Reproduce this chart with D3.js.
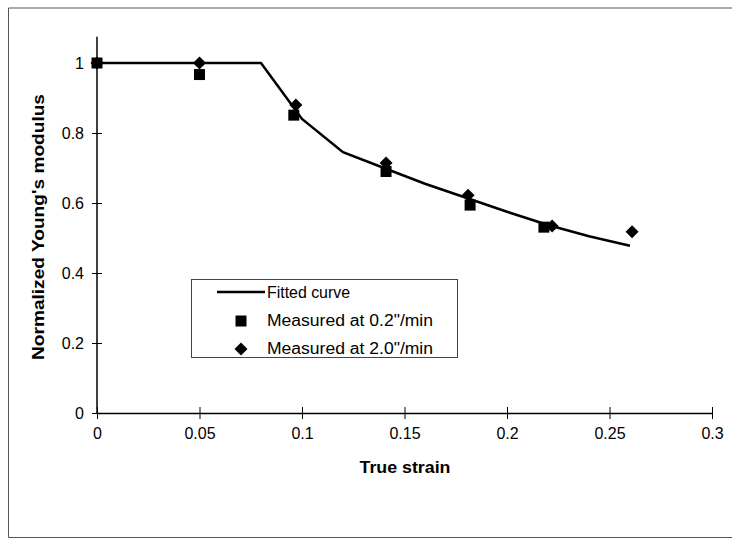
<!DOCTYPE html>
<html>
<head>
<meta charset="utf-8">
<script src="https://cdn.jsdelivr.net/npm/d3@7"></script>
<style>
  body { margin: 0; background: #fff; }
  text { font-family: "Liberation Sans", Arial, sans-serif; fill: #000; }
</style>
</head>
<body>
<script>
// Data
var fittedStrain = [0, 0.08, 0.1, 0.12, 0.14, 0.16, 0.18, 0.2, 0.22, 0.24, 0.26];
var fittedModulus = [1, 1, 0.84, 0.745, 0.70, 0.655, 0.615, 0.575, 0.537, 0.505, 0.478];

var slowStrain = [0, 0.05, 0.096, 0.141, 0.182, 0.218];
var slowModulus = [1, 0.967, 0.851, 0.69, 0.594, 0.531];

var fastStrain = [0, 0.05, 0.097, 0.141, 0.181, 0.222, 0.261];
var fastModulus = [1, 1, 0.88, 0.714, 0.622, 0.534, 0.518];

var xTicks = [0, 0.05, 0.1, 0.15, 0.2, 0.25, 0.3];
var yTicks = [0, 0.2, 0.4, 0.6, 0.8, 1];
var legendLabels = ["Fitted curve", "Measured at 0.2\"/min", "Measured at 2.0\"/min"];

var svgWidth = 732;
var svgHeight = 541;

var svg = d3.select("body")
  .append("svg")
  .attr("width", svgWidth)
  .attr("height", svgHeight);

// outer chart border (right edge runs off the page)
svg.append("path")
  .attr("d", "M760,8 H8.5 V537.5 H760")
  .attr("fill", "none")
  .attr("stroke", "#555")
  .attr("stroke-width", 1);

var x = d3.scaleLinear().domain([0, 0.3]).range([97, 712]);
var y = d3.scaleLinear().domain([0, 1]).range([413, 63]);

// axes
var bottomAxis = d3.axisBottom(x).tickValues(xTicks).tickFormat(d => d).tickSize(6).tickSizeOuter(0);
var leftAxis = d3.axisLeft(y).tickValues(yTicks).tickFormat(d => d).tickSize(6).tickSizeOuter(0);

var gx = svg.append("g")
  .attr("transform", "translate(0," + y(0) + ")")
  .call(bottomAxis);
gx.select(".domain").attr("stroke", "#000").attr("stroke-width", 1.5);
gx.selectAll(".tick line").attr("y1", -6).attr("y2", 6).attr("stroke", "#000");
gx.selectAll(".tick text").attr("y", 15).attr("font-size", 16)
  .style("font-family", "Liberation Sans, Arial, sans-serif");

var gy = svg.append("g")
  .attr("transform", "translate(" + x(0) + ",0)")
  .call(leftAxis);
gy.select(".domain").attr("stroke", "#000").attr("stroke-width", 1.5)
  .attr("d", "M0," + y(0) + "V" + y(1.075));
gy.selectAll(".tick line").attr("x1", -5).attr("x2", 5).attr("stroke", "#000");
gy.selectAll(".tick text").attr("x", -13).attr("font-size", 16)
  .style("font-family", "Liberation Sans, Arial, sans-serif");

// axis titles
svg.append("text")
  .attr("x", 405)
  .attr("y", 473)
  .attr("text-anchor", "middle")
  .attr("font-size", 16)
  .attr("font-weight", "bold")
  .attr("textLength", 91)
  .attr("lengthAdjust", "spacingAndGlyphs")
  .text("True strain");

svg.append("text")
  .attr("transform", "translate(44,227) rotate(-90)")
  .attr("text-anchor", "middle")
  .attr("font-size", 16)
  .attr("font-weight", "bold")
  .attr("textLength", 266)
  .attr("lengthAdjust", "spacingAndGlyphs")
  .text("Normalized Young's modulus");

// fitted curve
var fitted = fittedStrain.map((s, i) => [s, fittedModulus[i]]);
svg.append("path")
  .datum(fitted)
  .attr("fill", "none")
  .attr("stroke", "#000")
  .attr("stroke-width", 2.5)
  .attr("d", d3.line().x(d => x(d[0])).y(d => y(d[1])));

// measured points
var square = d3.symbol().type(d3.symbolSquare).size(121);
var diamondPath = "M0,-6.5L6.5,0L0,6.5L-6.5,0Z";

var fast = fastStrain.map((s, i) => [s, fastModulus[i]]);
svg.selectAll(".fast")
  .data(fast)
  .enter()
  .append("path")
  .attr("class", "fast")
  .attr("transform", d => "translate(" + x(d[0]) + "," + y(d[1]) + ")")
  .attr("d", diamondPath)
  .attr("fill", "#000");

var slow = slowStrain.map((s, i) => [s, slowModulus[i]]);
svg.selectAll(".slow")
  .data(slow)
  .enter()
  .append("path")
  .attr("class", "slow")
  .attr("transform", d => "translate(" + x(d[0]) + "," + y(d[1]) + ")")
  .attr("d", square)
  .attr("fill", "#000");

// legend
var legend = svg.append("g");
legend.append("rect")
  .attr("x", 191.5)
  .attr("y", 279.5)
  .attr("width", 266)
  .attr("height", 78)
  .attr("fill", "#fff")
  .attr("stroke", "#444")
  .attr("stroke-width", 1);

legend.append("line")
  .attr("x1", 217).attr("x2", 265)
  .attr("y1", 292).attr("y2", 292)
  .attr("stroke", "#000")
  .attr("stroke-width", 2.5);
legend.append("path")
  .attr("transform", "translate(241,321)")
  .attr("d", square)
  .attr("fill", "#000");
legend.append("path")
  .attr("transform", "translate(241,349)")
  .attr("d", diamondPath)
  .attr("fill", "#000");

var legendWidths = [83, 166, 166];
legend.selectAll(".legtext")
  .data(legendLabels)
  .enter()
  .append("text")
  .attr("class", "legtext")
  .attr("x", 267)
  .attr("y", (d, i) => 292 + i * 28)
  .attr("dy", "0.35em")
  .attr("font-size", 16)
  .attr("textLength", (d, i) => legendWidths[i])
  .attr("lengthAdjust", "spacingAndGlyphs")
  .text(d => d);
</script>
</body>
</html>
